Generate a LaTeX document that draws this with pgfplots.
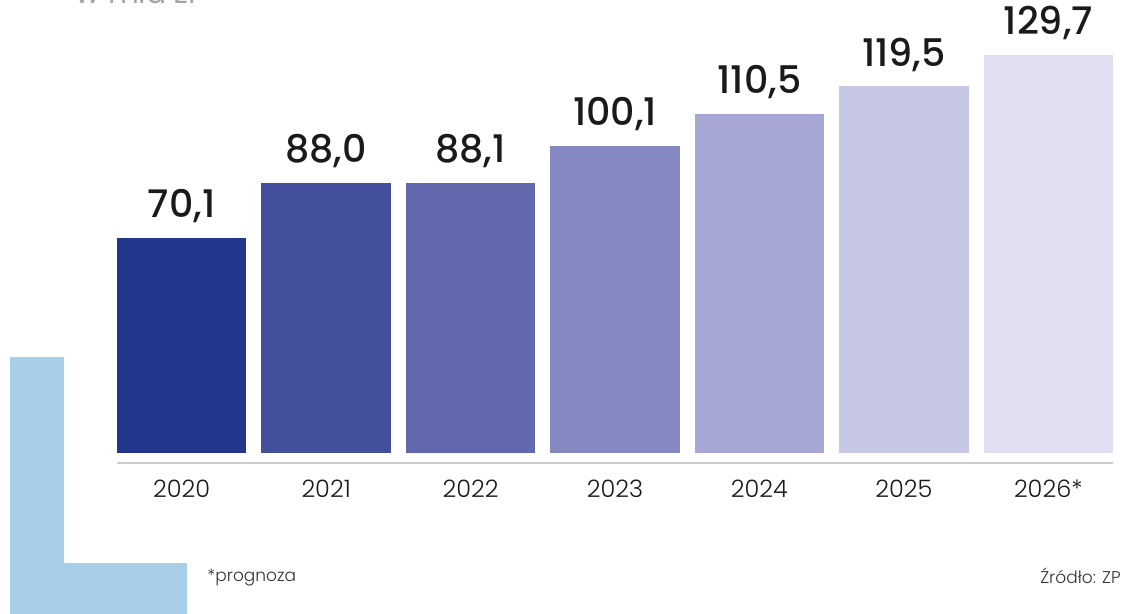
\documentclass[border=0pt]{standalone}
\usepackage{fontspec}
\setmainfont{Poppins}[BoldFont=Poppins Medium]
\newfontfamily\lightfont{Poppins Light}
\usepackage{pgfplots}
\pgfplotsset{compat=1.18}

\definecolor{cA}{HTML}{22378B}
\definecolor{cB}{HTML}{434E9D}
\definecolor{cC}{HTML}{6268AE}
\definecolor{cD}{HTML}{8689C1}
\definecolor{cE}{HTML}{A6A7D4}
\definecolor{cF}{HTML}{C6C6E5}
\definecolor{cG}{HTML}{DFDFF1}
\definecolor{lblue}{HTML}{A8CFEA}
\definecolor{txt}{HTML}{1A1A1A}

\begin{document}
\begin{tikzpicture}
\path[use as bounding box] (0,0) rectangle (561pt,307pt);
% decorative L shape
\fill[lblue] (5pt,0) rectangle (32pt,128.5pt);
\fill[lblue] (5pt,0) rectangle (93.5pt,25.5pt);
% unit line, cut by the top edge as in the source
\node[anchor=base west, inner sep=0, text=gray!70, font=\fontsize{15}{18}\selectfont] at (37.5pt,305pt) {w mld zł};

\begin{axis}[
    at={(58.5pt,75.5pt)}, anchor=south west,
    scale only axis, width=498pt, height=219.8pt,
    xmin=-0.448, xmax=6.448, ymin=-3.26, ymax=140,
    ybar, bar width=64.75pt, bar shift=0pt,
    axis y line=none, axis x line*=bottom,
    x axis line style={draw=black!20, line width=1pt},
    xtick={0,...,6}, xticklabels={2020,2021,2022,2023,2024,2025,2026*},
    xtick style={draw=none},
    xticklabel style={anchor=base, yshift=-13pt, text=txt, font=\lightfont\fontsize{12}{14}\selectfont},
    nodes near coords,
    every node near coord/.append style={anchor=base, yshift=10pt, text=txt, font=\bfseries\fontsize{19}{22}\selectfont},
    /pgf/number format/.cd, use comma, fixed, fixed zerofill, precision=1, assume math mode=true,
]
\addplot[fill=cA, draw=none] coordinates {(0,70.1)};
\addplot[fill=cB, draw=none] coordinates {(1,88.0)};
\addplot[fill=cC, draw=none] coordinates {(2,88.1)};
\addplot[fill=cD, draw=none] coordinates {(3,100.1)};
\addplot[fill=cE, draw=none] coordinates {(4,110.5)};
\addplot[fill=cF, draw=none] coordinates {(5,119.5)};
\addplot[fill=cG, draw=none] coordinates {(6,129.7)};
\end{axis}

\node[anchor=base west, inner sep=0, text=black!80, font=\lightfont\fontsize{8.5}{10}\selectfont] at (103.5pt,16pt) {*prognoza};
\node[anchor=base east, inner sep=0, text=black!80, font=\lightfont\fontsize{8.5}{10}\selectfont] at (560.5pt,15pt) {Źródło: ZP};
\end{tikzpicture}
\end{document}
